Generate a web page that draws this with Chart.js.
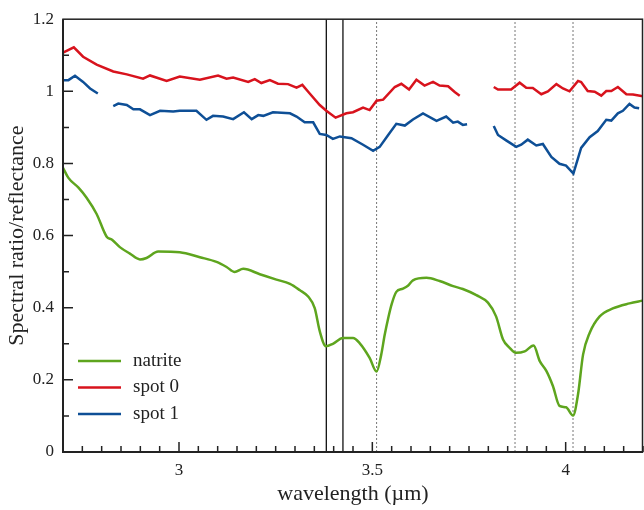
<!DOCTYPE html>
<html>
<head>
<meta charset="utf-8">
<script src="https://cdn.jsdelivr.net/npm/chart.js@4/dist/chart.umd.min.js"></script>
<style>
  html, body { margin: 0; padding: 0; background: #fff; }
  #wrap { width: 644px; height: 510px; }
</style>
</head>
<body>
<div id="wrap"><canvas id="spectra" width="644" height="510"></canvas></div>
<script>
// Wavelengths (um) and values
const natriteWl = [2.700, 2.714, 2.740, 2.761, 2.787, 2.813, 2.826, 2.847, 2.873, 2.899, 2.916, 2.946, 3.002, 3.054, 3.097, 3.123, 3.144, 3.166, 3.209, 3.252, 3.287, 3.312, 3.334, 3.351, 3.364, 3.380, 3.398, 3.424, 3.450, 3.467, 3.493, 3.511, 3.523, 3.532, 3.541, 3.550, 3.562, 3.579, 3.592, 3.605, 3.640, 3.674, 3.709, 3.734, 3.769, 3.799, 3.820, 3.838, 3.855, 3.871, 3.894, 3.917, 3.933, 3.950, 3.967, 3.984, 4.001, 4.019, 4.032, 4.045, 4.062, 4.088, 4.122, 4.165, 4.200];
const natriteVal = [0.788, 0.760, 0.733, 0.705, 0.660, 0.597, 0.589, 0.568, 0.550, 0.534, 0.538, 0.556, 0.554, 0.540, 0.527, 0.513, 0.499, 0.508, 0.493, 0.478, 0.466, 0.449, 0.431, 0.399, 0.335, 0.293, 0.300, 0.316, 0.316, 0.302, 0.261, 0.223, 0.270, 0.325, 0.371, 0.410, 0.444, 0.453, 0.461, 0.476, 0.483, 0.474, 0.460, 0.452, 0.435, 0.414, 0.376, 0.312, 0.289, 0.275, 0.279, 0.295, 0.252, 0.225, 0.183, 0.128, 0.124, 0.101, 0.160, 0.270, 0.330, 0.376, 0.398, 0.412, 0.420];

// null = gap in the measurement
const spot0Wl = [2.700, 2.728, 2.752, 2.787, 2.830, 2.865, 2.907, 2.925, 2.968, 3.002, 3.054, 3.101, 3.123, 3.140, 3.179, 3.196, 3.213, 3.235, 3.256, 3.282, 3.304, 3.319, 3.338, 3.364, 3.381, 3.405, 3.433, 3.450, 3.476, 3.493, 3.511, 3.528, 3.558, 3.575, 3.595, 3.614, 3.635, 3.657, 3.674, 3.696, 3.713, 3.726, 3.770, 3.814, 3.825, 3.859, 3.881, 3.898, 3.915, 3.937, 3.954, 3.976, 3.993, 4.010, 4.032, 4.040, 4.057, 4.075, 4.092, 4.105, 4.118, 4.135, 4.157, 4.174, 4.200];
const spot0Val = [1.107, 1.122, 1.096, 1.074, 1.055, 1.047, 1.035, 1.044, 1.029, 1.041, 1.032, 1.044, 1.035, 1.038, 1.026, 1.034, 1.023, 1.031, 1.021, 1.020, 1.010, 1.018, 0.994, 0.962, 0.946, 0.927, 0.939, 0.942, 0.955, 0.948, 0.974, 0.977, 1.012, 1.021, 1.005, 1.032, 1.016, 1.026, 1.016, 1.014, 0.998, 0.988, null, 1.012, 1.005, 1.005, 1.024, 1.010, 1.009, 0.992, 1.000, 1.020, 1.008, 1.000, 1.029, 1.026, 1.001, 0.999, 0.988, 1.001, 1.001, 1.012, 0.992, 0.991, 0.986];

const spot1Wl = [2.700, 2.714, 2.731, 2.752, 2.770, 2.790, 2.810, 2.830, 2.843, 2.865, 2.882, 2.899, 2.925, 2.951, 2.985, 3.002, 3.045, 3.071, 3.088, 3.114, 3.140, 3.168, 3.188, 3.205, 3.218, 3.243, 3.287, 3.304, 3.325, 3.347, 3.364, 3.381, 3.398, 3.416, 3.446, 3.476, 3.502, 3.519, 3.541, 3.562, 3.584, 3.605, 3.631, 3.666, 3.691, 3.709, 3.721, 3.734, 3.745, 3.780, 3.814, 3.825, 3.846, 3.872, 3.885, 3.902, 3.924, 3.941, 3.963, 3.984, 4.001, 4.020, 4.040, 4.062, 4.083, 4.105, 4.118, 4.135, 4.148, 4.165, 4.178, 4.190];
const spot1Val = [1.031, 1.031, 1.043, 1.026, 1.008, 0.994, null, 0.959, 0.966, 0.962, 0.950, 0.950, 0.934, 0.946, 0.944, 0.946, 0.946, 0.921, 0.932, 0.930, 0.923, 0.942, 0.923, 0.934, 0.932, 0.942, 0.939, 0.930, 0.914, 0.914, 0.882, 0.879, 0.868, 0.875, 0.870, 0.852, 0.835, 0.846, 0.879, 0.910, 0.905, 0.922, 0.939, 0.918, 0.930, 0.913, 0.916, 0.907, 0.909, null, 0.904, 0.879, 0.864, 0.846, 0.852, 0.866, 0.850, 0.854, 0.818, 0.799, 0.794, 0.772, 0.843, 0.873, 0.890, 0.921, 0.919, 0.939, 0.946, 0.965, 0.955, 0.953];

// marker lines (um)
const solidMarks = [3.381, 3.424];
const dottedMarks = [3.511, 3.869, 4.019];

const xTickVals = [3, 3.5, 4];
const yTickVals = [0, 0.2, 0.4, 0.6, 0.8, 1, 1.2];

const serif = "'Liberation Serif', 'DejaVu Serif', serif";
const seriesColors = ["#5ea51e", "#d8131d", "#0e4f96"];

function pairs(xs, ys) {
  return xs.map((x, i) => ({ x: x, y: ys[i] }));
}

function markLine(x, dotted) {
  return {
    label: "",
    data: [{ x: x, y: 0 }, { x: x, y: 1.2 }],
    borderColor: dotted ? "#777" : "#111",
    borderWidth: dotted ? 1 : 1.3,
    borderDash: dotted ? [2, 2] : [],
    pointRadius: 0,
    isMark: true,
  };
}

// Frame + inward tick marks + legend
const axisMarks = {
  id: "axisMarks",
  afterDraw(chart) {
    const { ctx, chartArea: a, scales } = chart;
    ctx.save();
    ctx.strokeStyle = "#222";
    ctx.lineWidth = 1.5;
    ctx.strokeRect(a.left, a.top, a.right - a.left - 0.5, a.bottom - a.top);
    ctx.lineWidth = 2;
    ctx.beginPath();
    ctx.moveTo(a.left, a.top);
    ctx.lineTo(a.left, a.bottom);
    ctx.lineTo(a.right, a.bottom);
    ctx.stroke();

    ctx.lineWidth = 1.5;
    ctx.beginPath();
    for (let i = 55; i <= 84; i++) {
      const px = scales.x.getPixelForValue(i * 0.05);
      const len = i % 10 === 0 ? 10 : 6;
      ctx.moveTo(px, a.bottom);
      ctx.lineTo(px, a.bottom - len);
    }
    for (let i = 1; i <= 11; i++) {
      const py = scales.y.getPixelForValue(i * 0.1);
      const len = i % 2 === 0 ? 10 : 6;
      ctx.moveTo(a.left, py);
      ctx.lineTo(a.left + len, py);
    }
    ctx.stroke();

    // legend sits inside the plot, lower left
    ctx.font = "19px " + serif;
    ctx.textBaseline = "middle";
    ctx.fillStyle = "#222";
    chart.data.datasets
      .filter((d) => !d.isMark)
      .forEach((d, i) => {
        const y = 361 + i * 26.5;
        ctx.strokeStyle = d.borderColor;
        ctx.lineWidth = 2.5;
        ctx.beginPath();
        ctx.moveTo(78, y);
        ctx.lineTo(121, y);
        ctx.stroke();
        ctx.fillText(d.label, 133, y);
      });
    ctx.restore();
  },
};

const ctx = document.getElementById("spectra").getContext("2d");
new Chart(ctx, {
  type: "line",
  data: {
    datasets: [
      {
        label: "natrite",
        data: pairs(natriteWl, natriteVal),
        borderColor: seriesColors[0],
        borderWidth: 2.5,
        pointRadius: 0,
        cubicInterpolationMode: "monotone",
      },
      {
        label: "spot 0",
        data: pairs(spot0Wl, spot0Val),
        borderColor: seriesColors[1],
        borderWidth: 2.5,
        pointRadius: 0,
        spanGaps: false,
      },
      {
        label: "spot 1",
        data: pairs(spot1Wl, spot1Val),
        borderColor: seriesColors[2],
        borderWidth: 2.5,
        pointRadius: 0,
        spanGaps: false,
      },
      ...solidMarks.map((x) => markLine(x, false)),
      ...dottedMarks.map((x) => markLine(x, true)),
    ],
  },
  options: {
    responsive: false,
    animation: false,
    layout: { padding: { top: 15, right: 1, left: 0, bottom: 0 } },
    plugins: {
      legend: { display: false },
      tooltip: { enabled: false },
    },
    scales: {
      x: {
        type: "linear",
        min: 2.7,
        max: 4.2,
        afterBuildTicks: (scale) => {
          scale.ticks = xTickVals.map((v) => ({ value: v }));
        },
        afterFit: (scale) => {
          scale.height = 58;
        },
        grid: { display: false, drawTicks: false },
        border: { display: false },
        ticks: {
          font: { family: serif, size: 17 },
          color: "#222",
          padding: 8,
          maxRotation: 0,
          callback: (value) => String(value),
        },
        title: {
          display: true,
          text: "wavelength (µm)",
          font: { family: serif, size: 22 },
          color: "#222",
          padding: { top: 0, bottom: 3 },
        },
      },
      y: {
        min: 0,
        max: 1.2,
        afterBuildTicks: (scale) => {
          scale.ticks = yTickVals.map((v) => ({ value: v }));
        },
        afterFit: (scale) => {
          scale.width = 63;
        },
        grid: { display: false, drawTicks: false },
        border: { display: false },
        ticks: {
          font: { family: serif, size: 17 },
          color: "#222",
          padding: 9,
          callback: (value) => String(value),
        },
        title: {
          display: true,
          text: "Spectral ratio/reflectance",
          font: { family: serif, size: 22 },
          color: "#222",
          padding: { top: 4, bottom: 0 },
        },
      },
    },
  },
  plugins: [axisMarks],
});
</script>
</body>
</html>
